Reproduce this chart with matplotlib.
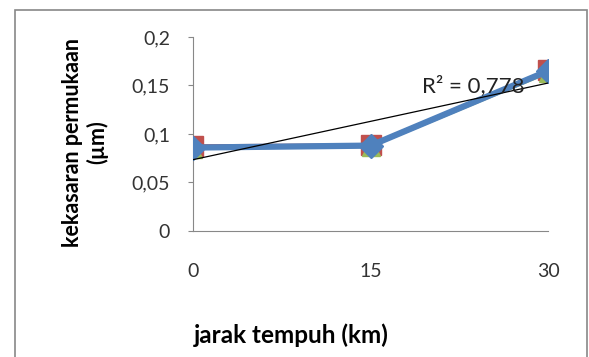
import numpy as np
import matplotlib
matplotlib.use("Agg")
import matplotlib.pyplot as plt
from matplotlib.patches import Rectangle

plt.rcParams['font.family'] = ['Lato', 'DejaVu Sans']

jarak = [0, 15, 30]
seri_merah = [0.088, 0.089, 0.166]
seri_hijau = [0.085, 0.087, 0.163]
seri_biru = [0.086, 0.088, 0.165]
y_ticks = [0, 0.05, 0.1, 0.15, 0.2]
y_labels = ['0', '0,05', '0,1', '0,15', '0,2']
x_labels = ['0', '15', '30']

fig = plt.figure(figsize=(5.89, 3.57), dpi=100)
ax = fig.add_axes([0.3277, 0.353, 0.6027, 0.5434])

ax.plot(jarak, seri_merah, marker='s', ms=14, color='#C0504D', lw=2, zorder=3)
ax.plot(jarak, seri_hijau, marker='^', ms=13, color='#9BBB59', lw=2, zorder=4)
ax.plot(jarak, seri_biru, marker='D', ms=12, color='#4F81BD', lw=4.5, zorder=5)

# linear trendline of the blue series
coef = np.polyfit(jarak, seri_biru, 1)
xx = np.array([jarak[0], jarak[-1]])
ax.plot(xx, np.polyval(coef, xx), color='black', lw=0.9, zorder=6)
ax.text(19.35, 0.143, 'R² = 0,778', fontsize=16, color='#222222',
        va='baseline', zorder=7)

ax.set_xlim(0, 30)
ax.set_ylim(0, 0.2)
ax.set_yticks(y_ticks)
ax.set_yticklabels(y_labels)
ax.set_xticks(jarak)
ax.set_xticklabels(x_labels)
ax.tick_params(axis='y', direction='out', length=3.6, width=0.8, color='#888888',
               labelsize=14, labelcolor='#333333', pad=13)
ax.tick_params(axis='x', length=0, labelsize=14, labelcolor='#333333', pad=23)
for s in ['top', 'right']:
    ax.spines[s].set_visible(False)
for s in ['left', 'bottom']:
    ax.spines[s].set_color('#888888')
    ax.spines[s].set_linewidth(0.8)
for lab in ax.get_xticklabels():
    lab.set_clip_on(False)

fig.text(0.145, 0.602, 'kekasaran permukaan\n(µm)', rotation=90, fontsize=15.5,
         fontweight='bold', ha='center', va='center', linespacing=1.2)
fig.text(0.494, 0.06, 'jarak tempuh (km)', fontsize=17.5, fontweight='bold',
         ha='center', va='center')

fig.patches.append(Rectangle((15 / 589, -0.1), 572 / 589, 1 - 10 / 357 + 0.1,
                             transform=fig.transFigure, fill=False,
                             edgecolor='#888888', lw=1.2))

fig.savefig('out.png', dpi=100)
